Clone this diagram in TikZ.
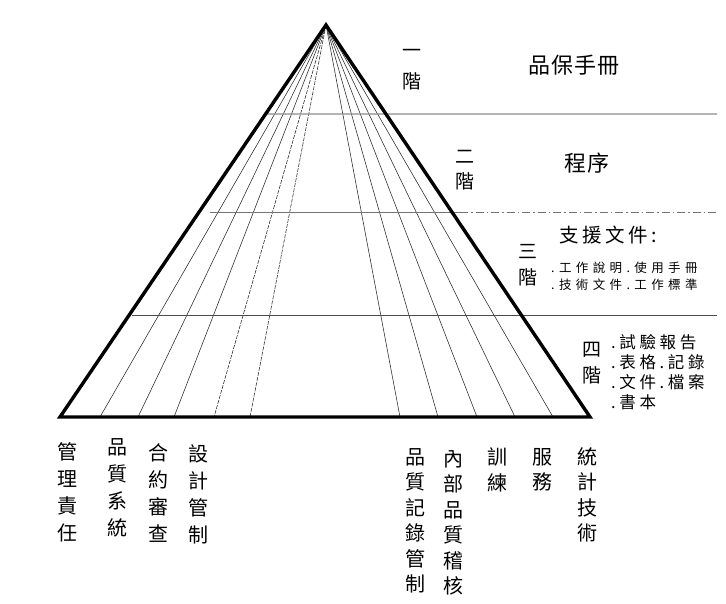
\documentclass[tikz,border=0pt]{standalone}
\usepackage{fontspec}
\newfontfamily\cjk{Noto Sans CJK TC}
\usetikzlibrary{calc}
\begin{document}
\begin{tikzpicture}[x=1pt,y=-1pt,
  edge/.style={line width=3.4pt, line join=miter},
  fan/.style={line width=0.55pt, black!85},
  fandash/.style={fan, dash pattern=on 4pt off 1.2pt},
  tier/.style={line width=1pt, black!55},
  lvlch/.style={font=\cjk\fontsize{19}{20}\selectfont, inner sep=0pt},
  head/.style={font=\cjk\fontsize{22}{25}\selectfont\addfontfeatures{LetterSpace=6}, inner sep=0pt},
  subhead/.style={font=\cjk\fontsize{19.5}{22}\selectfont\addfontfeatures{LetterSpace=18}, inner sep=0pt, anchor=west},
  small/.style={font=\cjk\fontsize{12.5}{17}\selectfont\addfontfeatures{LetterSpace=35}, inner sep=0pt, anchor=west},
  mid/.style={font=\cjk\fontsize{16.5}{20}\selectfont\addfontfeatures{LetterSpace=22}, inner sep=0pt, anchor=west},
  vlabA/.style={font=\cjk\fontsize{20}{27}\selectfont, align=center, inner sep=0pt},
  vlabB/.style={font=\cjk\fontsize{20}{25.5}\selectfont, align=center, inner sep=0pt}
]
\useasboundingbox (0,0) rectangle (726,604);

% triangle corners
\coordinate (A) at (326,25);
\coordinate (L) at (60,417);
\coordinate (R) at (590,417);

% fan base points
\foreach \n/\x in {1/100,2/138,3/174,4/214,5/250,6/400,7/438,8/477,9/515,10/553}
  \coordinate (b\n) at (\x,417);

% fan lines
\foreach \n in {1,2,3,6,7,8,9,10}
  \draw[fan] (A) -- (b\n);
\foreach \n in {4,5}
  \draw[fandash] (A) -- (b\n);

% tier lines
\coordinate (h1l) at ($(A)!0.227!(L)$);
\coordinate (h1r) at (717,114);
\coordinate (h2l) at (210,213);
\coordinate (h2m) at (460,213);
\coordinate (h2r) at (717,213);
\coordinate (h3l) at (132,315);
\coordinate (h3r) at (717,315);
\draw[tier, black!45, line width=1.3pt] (h1l) -- (h1r);
\draw[tier] (h2l) -- (h2m);
\draw[tier, dash pattern=on 8pt off 3pt on 1.5pt off 3pt] (h2m) -- (h2r);
\draw[tier, black!70] (h3l) -- (h3r);

% triangle outline
\draw[edge] (L) -- (A) -- (R) -- cycle;

% level markers
\node[lvlch] (t1a) at (412,53) {一};
\node[lvlch] (t1b) at (412,81) {階};
\node[lvlch] (t2a) at (465,157) {二};
\node[lvlch] (t2b) at (465,181) {階};
\node[lvlch] (t3a) at (528,252) {三};
\node[lvlch] (t3b) at (528,277) {階};
\node[lvlch] (t4a) at (592,350) {四};
\node[lvlch] (t4b) at (592,375) {階};

% right-hand texts
\node[head] (manual) at (574,65) {品保手冊};
\node[head] (proc) at (587,163) {程序};
\node[subhead] (supp) at (559,235) {支援文件:};
\node[small] (s1) at (551,268) {.工作說明.使用手冊};
\node[small] (s2) at (551,285) {.技術文件.工作標準};
\node[mid] (r1) at (611,342) {.試驗報告};
\node[mid] (r2) at (611,362) {.表格.記錄};
\node[mid] (r3) at (611,382) {.文件.檔案};
\node[mid] (r4) at (611,402) {.書本};

% bottom vertical labels
\node[vlabA] (c1) at (67,492) {管\\理\\責\\任};
\node[vlabA] (c2) at (117,488) {品\\質\\系\\統};
\node[vlabA] (c3) at (158,493) {合\\約\\審\\查};
\node[vlabA] (c4) at (198,494) {設\\計\\管\\制};
\node[vlabB] (c5) at (415,521) {品\\質\\記\\錄\\管\\制};
\node[vlabB] (c6) at (453,523) {內\\部\\品\\質\\稽\\核};
\node[vlabB] (c7) at (497,470) {訓\\練};
\node[vlabB] (c8) at (542,470) {服\\務};
\node[vlabB] (c9) at (587,495) {統\\計\\技\\術};
\end{tikzpicture}
\end{document}
